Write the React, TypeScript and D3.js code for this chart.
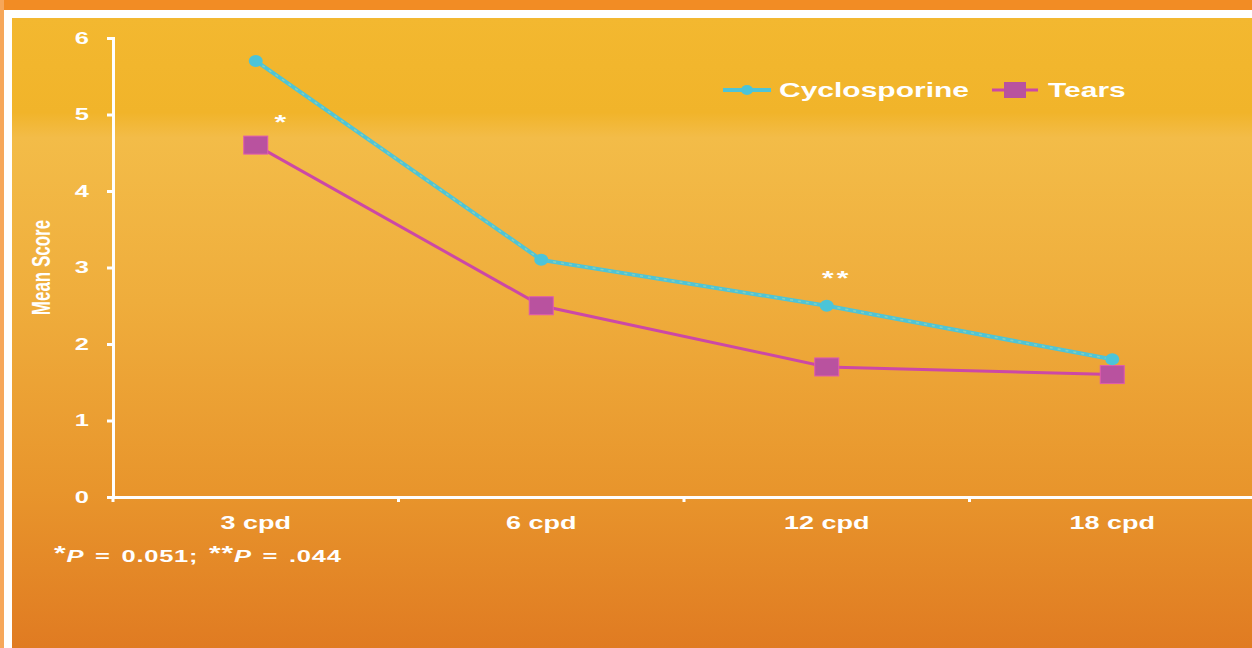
import { useEffect, useRef } from "react";
import * as d3 from "d3";

const categories = ["3 cpd", "6 cpd", "12 cpd", "18 cpd"];
const cyclosporine = [5.7, 3.1, 2.5, 1.8];
const tears = [4.6, 2.5, 1.7, 1.6];
const yTicks = [0, 1, 2, 3, 4, 5, 6];
const seriesNames = ["Cyclosporine", "Tears"];
const stars = [
  { cat: "3 cpd", value: 5.0, label: "*" },
  { cat: "12 cpd", value: 2.95, label: "**" },
];

const W = 1252;
const H = 648;
const SX = 1.5; // the slide text is stretched sideways

export default function App() {
  const svgRef = useRef<SVGSVGElement | null>(null);

  useEffect(() => {
    const svg = d3.select(svgRef.current);
    svg.selectAll("*").remove();

    const margin = { top: 38, left: 113, right: -3, bottom: 151 };
    const font = "Liberation Sans, Arial, sans-serif";

    // background
    const defs = svg.append("defs");
    const grad = defs
      .append("linearGradient")
      .attr("id", "bg")
      .attr("x1", 0)
      .attr("y1", 0)
      .attr("x2", 0)
      .attr("y2", 1);
    [
      [0, "#f3b830"],
      [0.15, "#f1b42a"],
      [0.19, "#f3bc48"],
      [0.45, "#efad3c"],
      [0.75, "#e8952c"],
      [1, "#e07b22"],
    ].forEach(([o, c]) => grad.append("stop").attr("offset", o as number).attr("stop-color", c as string));

    svg.append("rect").attr("width", W).attr("height", H).attr("fill", "#ffffff");
    svg.append("rect").attr("x", 0).attr("y", 0).attr("width", W).attr("height", 10).attr("fill", "#f28c24");
    svg.append("rect").attr("x", 0).attr("y", 0).attr("width", 4).attr("height", H).attr("fill", "#f6a75a");
    svg.append("rect").attr("x", 12).attr("y", 18).attr("width", W - 12).attr("height", H - 18).attr("fill", "url(#bg)");

    const x = d3
      .scaleBand()
      .domain(categories)
      .range([margin.left, W - margin.right]);
    const y = d3
      .scaleLinear()
      .domain([0, 6])
      .range([H - margin.bottom, margin.top]);
    const cx = (c: string) => (x(c) as number) + x.bandwidth() / 2;

    // y axis
    const yAxis = d3
      .axisLeft(y)
      .tickValues(yTicks)
      .tickSize(6)
      .tickPadding(0)
      .tickFormat(d3.format("d"));
    const gy = svg.append("g").attr("transform", `translate(${margin.left},0)`).call(yAxis);
    gy.select(".domain").attr("stroke", "#fff").attr("stroke-width", 3);
    gy.selectAll(".tick line").attr("stroke", "#fff").attr("stroke-width", 3);
    gy.selectAll(".tick text")
      .attr("x", -24 / SX)
      .attr("transform", `scale(${SX},1)`)
      .attr("fill", "#fff")
      .style("font-family", font)
      .style("font-weight", "bold")
      .style("font-size", "17px");

    // x axis
    const xAxis = d3.axisBottom(x).tickSize(0).tickPadding(19);
    const gx = svg.append("g").attr("transform", `translate(0,${H - margin.bottom})`).call(xAxis);
    gx.select(".domain").attr("stroke", "#fff").attr("stroke-width", 3);
    gx.selectAll(".tick text")
      .attr("transform", `scale(${SX},1)`)
      .attr("fill", "#fff")
      .style("font-family", font)
      .style("font-weight", "bold")
      .style("font-size", "18px");
    // between-category tick marks
    gx.selectAll(".sep")
      .data(categories)
      .join("line")
      .attr("x1", (d) => x(d) as number)
      .attr("x2", (d) => x(d) as number)
      .attr("y1", 0)
      .attr("y2", 5)
      .attr("stroke", "#fff")
      .attr("stroke-width", 3);

    // y label
    svg
      .append("text")
      .attr("transform", `translate(50,${y(3)}) scale(${SX},1) rotate(-90)`)
      .attr("text-anchor", "middle")
      .attr("fill", "#fff")
      .style("font-family", font)
      .style("font-weight", "bold")
      .style("font-size", "17px")
      .text("Mean Score");

    const line = d3
      .line<number>()
      .x((_, i) => cx(categories[i]))
      .y((d) => y(d));

    // tears
    svg
      .append("path")
      .datum(tears)
      .attr("d", line)
      .attr("fill", "none")
      .attr("stroke", "#cc48a6")
      .attr("stroke-width", 3);
    svg
      .selectAll(".tsq")
      .data(tears)
      .join("rect")
      .attr("x", (_, i) => cx(categories[i]) - 12)
      .attr("y", (d) => y(d) - 9)
      .attr("width", 24)
      .attr("height", 18)
      .attr("fill", "#b9529f")
      .attr("stroke", "#e05ab0")
      .attr("stroke-width", 1);

    // cyclosporine
    svg
      .append("path")
      .datum(cyclosporine)
      .attr("d", line)
      .attr("fill", "none")
      .attr("stroke", "#4fc4d6")
      .attr("stroke-width", 4);
    svg
      .append("path")
      .datum(cyclosporine)
      .attr("d", line)
      .attr("fill", "none")
      .attr("stroke", "#9ad6b4")
      .attr("stroke-width", 1.5)
      .attr("stroke-dasharray", "3,5")
      .attr("opacity", 0.7);
    svg
      .selectAll(".cdm")
      .data(cyclosporine)
      .join("ellipse")
      .attr("cx", (_, i) => cx(categories[i]))
      .attr("cy", (d) => y(d))
      .attr("rx", 7)
      .attr("ry", 6)
      .attr("fill", "#4cc4d8");

    // significance stars
    svg
      .selectAll(".star")
      .data(stars)
      .join("text")
      .attr("transform", (d) => `translate(${cx(d.cat) + (d.label === "*" ? 26 : 10)},${y(d.value) + 14}) scale(${SX},1)`)
      .attr("text-anchor", "middle")
      .attr("fill", "#fff")
      .style("font-family", font)
      .style("font-weight", "bold")
      .style("font-size", "20px")
      .style("letter-spacing", "2px")
      .text((d) => d.label);

    // legend
    const lg = svg.append("g").attr("transform", "translate(723,90)");
    const lgFont = (s: d3.Selection<SVGTextElement, unknown, null, undefined>) =>
      s
        .attr("fill", "#fff")
        .attr("dy", "0.35em")
        .style("font-family", font)
        .style("font-weight", "bold")
        .style("font-size", "20px");
    lg.append("line").attr("x1", 0).attr("x2", 48).attr("y1", 0).attr("y2", 0).attr("stroke", "#4fc4d6").attr("stroke-width", 4);
    lg.append("ellipse").attr("cx", 24).attr("cy", 0).attr("rx", 6).attr("ry", 5).attr("fill", "#4cc4d8");
    lg.append("text").attr("transform", `translate(56,0) scale(${SX},1)`).text(seriesNames[0]).call(lgFont);
    lg.append("line").attr("x1", 269).attr("x2", 315).attr("y1", 0).attr("y2", 0).attr("stroke", "#cc48a6").attr("stroke-width", 3);
    lg.append("rect").attr("x", 281).attr("y", -8).attr("width", 22).attr("height", 16).attr("fill", "#b9529f");
    lg.append("text").attr("transform", `translate(325,0) scale(${SX},1)`).text(seriesNames[1]).call(lgFont);

    // footnote
    const fn = svg
      .append("text")
      .attr("transform", `translate(54,562) scale(${SX},1)`)
      .attr("fill", "#fff")
      .style("font-family", font)
      .style("font-weight", "bold")
      .style("font-size", "17px")
      .style("word-spacing", "2px")
      .style("letter-spacing", "0.5px");
    fn.append("tspan").attr("font-size", "20px").attr("dy", "-2").text("*");
    fn.append("tspan").attr("font-style", "italic").attr("dy", "2").text("P");
    fn.append("tspan").text(" = 0.051; ");
    fn.append("tspan").attr("font-size", "20px").attr("dy", "-2").text("**");
    fn.append("tspan").attr("font-style", "italic").attr("dy", "2").text("P");
    fn.append("tspan").text(" = .044");
  }, []);

  return (
    <svg
      ref={svgRef}
      width={W}
      height={H}
      style={{ position: "absolute", left: 0, top: 0, display: "block" }}
    />
  );
}
